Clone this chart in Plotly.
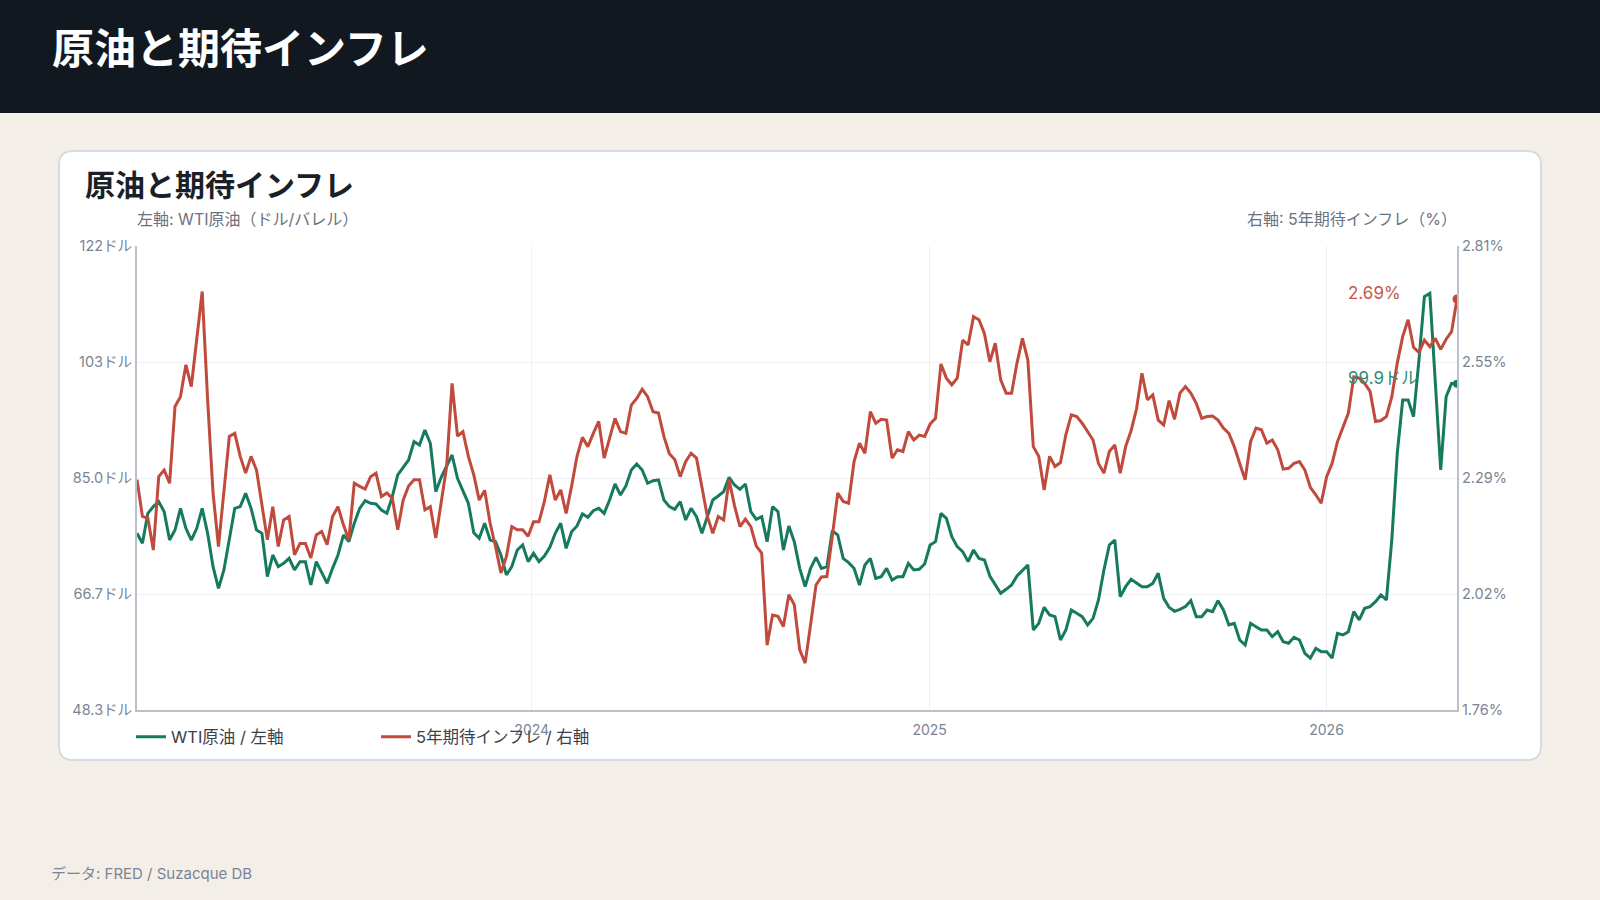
import pandas as pd
import plotly.graph_objects as go

# values, one sample every ~5 days
start_date = "2023-01-03"
end_date = "2026-05-01"

# WTI crude, dollars per barrel (left axis)
wti = [
    76.25, 74.67, 79.41, 80.47, 81.26, 79.67, 75.19, 76.77, 80.20, 77.04,
    75.19, 77.04, 80.20, 76.25, 70.97, 67.55, 70.45, 75.19, 80.20, 80.47,
    82.57, 80.20, 76.77, 76.25, 69.39, 72.82, 70.97, 71.50, 72.29, 70.45,
    71.77, 71.77, 68.07, 71.77, 70.18, 68.34, 70.71, 72.82, 75.98, 74.93,
    77.83, 80.20, 81.42, 81.00, 80.89, 79.94, 79.41, 82.05, 85.48, 86.69,
    87.85, 90.75, 90.22, 92.60, 90.49, 82.84, 85.11, 86.90, 88.64, 84.95,
    83.10, 81.00, 76.35, 75.46, 77.83, 75.19, 74.93, 72.82, 69.66, 70.97,
    73.61, 74.40, 71.77, 73.08, 71.77, 72.66, 74.03, 76.25, 77.83, 73.87,
    76.51, 77.41, 79.30, 78.78, 79.83, 80.20, 79.41, 81.52, 84.05, 82.31,
    83.74, 86.27, 87.21, 86.27, 84.16, 84.58, 84.69, 81.52, 80.47, 80.04,
    81.26,
    78.36, 80.20, 78.88, 76.25, 78.99, 81.52, 82.15, 82.84, 85.11, 83.89,
    83.21, 84.05, 79.67, 78.46, 78.88, 74.93, 80.47, 79.67, 73.61, 77.41,
    74.93, 70.71, 67.81, 70.71, 72.45, 70.71, 70.97, 76.67, 75.98, 72.29,
    71.61, 70.71, 68.07, 71.24, 72.29, 69.13, 69.39, 70.71, 68.86, 69.39,
    69.39, 71.50, 70.45, 70.55, 71.40, 74.40, 74.93, 79.41, 78.62, 75.72,
    74.14,
    73.35, 71.77, 73.61, 72.29, 72.03, 69.50, 68.07, 66.76, 67.39, 68.07,
    69.50, 70.45, 71.24, 60.96, 62.01, 64.54, 63.33, 63.07, 59.37, 60.96,
    64.12, 63.59, 63.07, 61.75, 62.80, 65.70, 70.45, 74.40, 75.19, 66.23,
    67.81, 68.97, 68.34, 67.81, 67.81, 68.34, 69.92, 65.96, 64.54, 63.91,
    64.23, 64.65, 65.60, 63.07,
    63.07, 64.12, 63.86, 65.60, 64.12, 61.75, 62.01, 59.37, 58.58, 62.01,
    61.48, 60.96, 60.96, 59.90, 60.69, 59.11, 58.85, 59.80, 59.37, 57.27,
    56.50, 58.06, 57.53, 57.53, 56.50, 60.43, 60.17, 60.69, 63.86, 62.54,
    64.38, 64.65, 65.44, 66.49, 65.70, 75.19, 88.90, 97.34, 97.34, 94.70,
    103.67, 113.69, 114.22, 100.50, 86.27, 97.87, 99.98, 99.9,
]

# 5-year breakeven inflation, percent (right axis)
bei = [
    2.281, 2.198, 2.194, 2.122, 2.288, 2.303, 2.273, 2.447, 2.469, 2.541,
    2.492, 2.597, 2.707, 2.462, 2.251, 2.130, 2.251, 2.379, 2.386, 2.334,
    2.296, 2.334, 2.303, 2.220, 2.145, 2.220, 2.130, 2.190, 2.198, 2.111,
    2.137, 2.137, 2.104, 2.156, 2.164, 2.134, 2.198, 2.220, 2.179, 2.145,
    2.273, 2.266, 2.260, 2.288, 2.296, 2.243, 2.251, 2.239, 2.168, 2.235,
    2.267, 2.281, 2.281, 2.213, 2.220, 2.149, 2.228, 2.311, 2.499, 2.380,
    2.390, 2.334, 2.292, 2.235, 2.257, 2.183, 2.130, 2.070, 2.107, 2.175,
    2.168, 2.168, 2.153, 2.186, 2.186, 2.232, 2.292, 2.235, 2.258, 2.205,
    2.266, 2.334, 2.377, 2.356, 2.386, 2.413, 2.330, 2.375, 2.420, 2.390,
    2.386, 2.450, 2.465, 2.486, 2.469, 2.435, 2.432, 2.379, 2.340, 2.327,
    2.288,
    2.322, 2.341, 2.330, 2.262, 2.198, 2.160, 2.198, 2.190, 2.281, 2.222,
    2.175, 2.192, 2.175, 2.131, 2.115, 1.907, 1.975, 1.972, 1.949, 2.021,
    1.998, 1.896, 1.866, 1.953, 2.043, 2.061, 2.062, 2.153, 2.251, 2.232,
    2.228, 2.322, 2.364, 2.341, 2.435, 2.409, 2.418, 2.416, 2.330, 2.349,
    2.345, 2.390, 2.371, 2.382, 2.379, 2.407, 2.420, 2.543, 2.511, 2.496,
    2.511,
    2.597, 2.586, 2.650, 2.643, 2.612, 2.548, 2.590, 2.507, 2.477, 2.477,
    2.545, 2.601, 2.552, 2.356, 2.334, 2.258, 2.334, 2.311, 2.320, 2.383,
    2.428, 2.424, 2.409, 2.390, 2.371, 2.318, 2.296, 2.345, 2.360, 2.296,
    2.356, 2.392, 2.441, 2.522, 2.462, 2.473, 2.416, 2.405, 2.460, 2.418,
    2.477, 2.492, 2.477, 2.454,
    2.420, 2.424, 2.425, 2.416, 2.398, 2.386, 2.356, 2.318, 2.281, 2.367,
    2.398, 2.394, 2.364, 2.371, 2.349, 2.305, 2.307, 2.318, 2.322, 2.303,
    2.264, 2.247, 2.228, 2.288, 2.318, 2.367, 2.398, 2.432, 2.514, 2.511,
    2.499, 2.481, 2.413, 2.415, 2.424, 2.469, 2.545, 2.605, 2.643, 2.581,
    2.569, 2.597, 2.582, 2.601, 2.576, 2.599, 2.616, 2.690,
]

left_ticks = [48.3, 66.65, 85.0, 103.35, 121.7]
left_labels = ["48.3ドル", "66.7ドル", "85.0ドル", "103ドル", "122ドル"]
right_ticks = [1.76, 2.0225, 2.285, 2.5475, 2.81]
right_labels = ["1.76%", "2.02%", "2.29%", "2.55%", "2.81%"]
year_ticks = ["2024-01-01", "2025-01-01", "2026-01-01"]
year_labels = ["2024", "2025", "2026"]

dates = pd.date_range(start_date, end_date, periods=len(wti))

GREEN = "#167a5e"
RED = "#c04a3c"
GRID = "#eef0f3"
AXIS = "#b8c1cc"
MUTED = "#7b8494"
FONT = "Inter, 'Noto Sans CJK JP', sans-serif"
JP = "'Noto Sans CJK JP', sans-serif"

# page geometry in pixels -> paper coords
W, H = 1600, 900
L, R, T, B = 137, 143, 246, 190
PW = W - L - R
PH = H - T - B


def px(x):
    return (x - L) / PW


def py(y):
    return (H - B - y) / PH


def round_rect(x0, y0, x1, y1, r):
    rx = r / PW
    ry = r / PH
    a, b, c, d = px(x0), py(y0), px(x1), py(y1)
    return (f"M {a + rx},{b} L {c - rx},{b} Q {c},{b} {c},{b - ry} "
            f"L {c},{d + ry} Q {c},{d} {c - rx},{d} L {a + rx},{d} "
            f"Q {a},{d} {a},{d + ry} L {a},{b - ry} Q {a},{b} {a + rx},{b} Z")


fig = go.Figure()

fig.add_trace(go.Scatter(x=dates, y=wti, name="WTI原油 / 左軸", mode="lines",
                         line=dict(color=GREEN, width=3), yaxis="y"))
fig.add_trace(go.Scatter(x=dates, y=bei, name="5年期待インフレ / 右軸", mode="lines",
                         line=dict(color=RED, width=3), yaxis="y2"))
fig.add_trace(go.Scatter(x=[dates[-1]], y=[wti[-1]], mode="markers", showlegend=False,
                         marker=dict(color=GREEN, size=8), yaxis="y"))
fig.add_trace(go.Scatter(x=[dates[-1]], y=[bei[-1]], mode="markers", showlegend=False,
                         marker=dict(color=RED, size=9), yaxis="y2"))

shapes = [
    dict(type="rect", xref="paper", yref="paper", x0=px(0), x1=px(W), y0=py(113), y1=py(0),
         fillcolor="#111820", line=dict(width=0), layer="below"),
    dict(type="path", xref="paper", yref="paper", path=round_rect(59, 151, 1541, 760, 14),
         fillcolor="white", line=dict(color="#d5dbe2", width=2), layer="below"),
]

annotations = [
    dict(text="<b>原油と期待インフレ</b>", x=px(50), y=py(45), xref="paper", yref="paper",
         xanchor="left", yanchor="middle", showarrow=False,
         font=dict(family=JP, size=42, color="white")),
    dict(text="<b>原油と期待インフレ</b>", x=px(83), y=py(183), xref="paper", yref="paper",
         xanchor="left", yanchor="middle", showarrow=False,
         font=dict(family=JP, size=30, color="#1b1f27")),
    dict(text="左軸: WTI原油（ドル/バレル）", x=px(135), y=py(219), xref="paper", yref="paper",
         xanchor="left", yanchor="middle", showarrow=False,
         font=dict(family=FONT, size=16, color="#6b7280")),
    dict(text="右軸: 5年期待インフレ（%）", x=px(1459), y=py(219), xref="paper", yref="paper",
         xanchor="right", yanchor="middle", showarrow=False,
         font=dict(family=FONT, size=16, color="#6b7280")),
    dict(text="データ: FRED / Suzacque DB", x=px(49), y=py(873), xref="paper", yref="paper",
         xanchor="left", yanchor="middle", showarrow=False,
         font=dict(family=FONT, size=15, color="#7b8494")),
    dict(text=f"{bei[-1]:.2f}%", x=dates[-1], y=bei[-1], xref="x", yref="y2",
         xanchor="left", yanchor="middle", xshift=-111, yshift=6, showarrow=False,
         font=dict(family=FONT, size=17, color="#c9544a")),
    dict(text=f"{wti[-1]:.1f}ドル", x=dates[-1], y=wti[-1], xref="x", yref="y",
         xanchor="left", yanchor="middle", xshift=-111, yshift=6, showarrow=False,
         font=dict(family=FONT, size=17, color="#2f8c70")),
]

fig.update_layout(
    width=W, height=H,
    margin=dict(l=L, r=R, t=T, b=B, pad=0),
    paper_bgcolor="#f3efe8",
    plot_bgcolor="rgba(0,0,0,0)",
    font=dict(family=FONT, size=14, color=MUTED),
    shapes=shapes,
    annotations=annotations,
    hovermode=False,
    legend=dict(orientation="h", x=px(131), xanchor="left", y=py(737), yanchor="middle",
                font=dict(family=FONT, size=16.5, color="#3b414b"),
                entrywidth=200, entrywidthmode="pixels",
                bgcolor="rgba(0,0,0,0)", itemwidth=30),
    xaxis=dict(type="date", range=[start_date, end_date], tickvals=year_ticks, ticktext=year_labels,
               showgrid=True, gridcolor=GRID, gridwidth=1, showline=True, linecolor=AXIS,
               linewidth=2, ticks="outside", ticklen=6, tickcolor="rgba(0,0,0,0)",
               zeroline=False, tickfont=dict(size=14, color=MUTED)),
    yaxis=dict(range=[48.3, 121.7], tickvals=left_ticks, ticktext=left_labels,
               showgrid=True, gridcolor=GRID, gridwidth=1, showline=True, linecolor=AXIS,
               linewidth=2, ticks="", zeroline=False, tickfont=dict(size=14.5, color=MUTED)),
    yaxis2=dict(range=[1.76, 2.81], tickvals=right_ticks, ticktext=right_labels,
                overlaying="y", side="right", showgrid=False, showline=True, linecolor=AXIS,
                linewidth=2, ticks="", zeroline=False, tickfont=dict(size=14.5, color=MUTED)),
)

# drop the default 8px body margin so the figure fills the window
fig.write_html("out.html", config={"displayModeBar": False},
               post_script="document.body.style.margin='0';")
